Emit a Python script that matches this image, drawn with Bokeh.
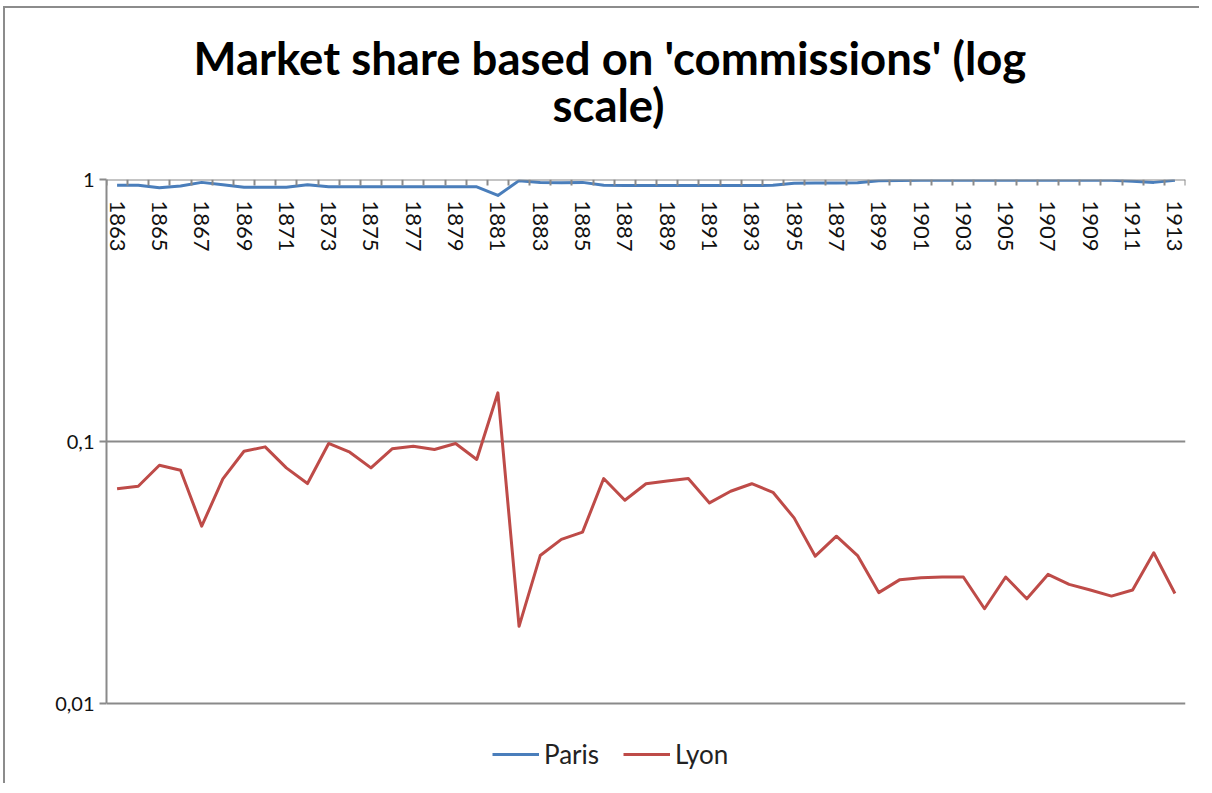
from bokeh.plotting import figure
from bokeh.models import Range1d, FixedTicker, CustomJSTickFormatter, Legend, LegendItem, Title
from bokeh.embed import file_html
from bokeh.resources import INLINE

# ---- data ----
years = list(range(1863, 1914))
label_years = [y for y in years if (y - 1863) % 2 == 0]

paris = [0.951, 0.950, 0.930, 0.945, 0.975, 0.955, 0.935, 0.935, 0.935, 0.955,
         0.938, 0.938, 0.938, 0.938, 0.938, 0.938, 0.938, 0.938, 0.869, 0.990,
         0.975, 0.972, 0.975, 0.950, 0.948, 0.948, 0.948, 0.948, 0.948, 0.948,
         0.948, 0.950, 0.968, 0.970, 0.970, 0.972, 0.990, 0.992, 0.993, 0.993,
         0.993, 0.993, 0.993, 0.993, 0.993, 0.993, 0.993, 0.993, 0.985, 0.975,
         0.993]

lyon = [0.066, 0.0675, 0.0812, 0.0777, 0.0475, 0.072, 0.0918, 0.0954, 0.0793, 0.0691,
        0.0983, 0.091, 0.0793, 0.0938, 0.096, 0.0932, 0.0983, 0.0854, 0.1534, 0.0197,
        0.0367, 0.0423, 0.0451, 0.0722, 0.0597, 0.069, 0.0706, 0.0722, 0.0583, 0.0646,
        0.069, 0.064, 0.0511, 0.0365, 0.0435, 0.0367, 0.0265, 0.0297, 0.0302, 0.0304,
        0.0304, 0.023, 0.0304, 0.0251, 0.0311, 0.0285, 0.0271, 0.0257, 0.0271, 0.0376,
        0.0263]

y_ticks = [0.01, 0.1, 1]
title_lines = ["Market share based on 'commissions' (log", "scale)"]

GRAY = "#8a8a8a"
FONT = "Lato"

# frame extends a little below 0.01 so the legend can sit inside it
y_low = 10 ** (-2 - 72 / 262)

p = figure(width=1196, height=777, title=None,
           x_range=Range1d(years[0] - 0.5, years[-1] + 0.5),
           y_range=Range1d(y_low, 1),
           y_axis_type="log", output_backend="svg", toolbar_location=None,
           min_border_left=101, min_border_right=16, min_border_top=171,
           min_border_bottom=10)
p.outline_line_color = None
p.background_fill_color = "white"
p.border_fill_color = "white"
p.styles = {"border-top": "2px solid #8c8c8c", "border-left": "2px solid #8c8c8c",
            "margin-top": "6px", "margin-left": "3px"}

# title: spacer + two lines (first added = nearest the plot)
p.add_layout(Title(text=" ", text_font_size="10px", standoff=40), "above")
p.add_layout(Title(text=title_lines[1], align="left", offset=446, standoff=-10,
                   text_font=FONT, text_font_style="bold", text_font_size="45.5px",
                   text_color="#000000"), "above")
p.add_layout(Title(text=title_lines[0], align="left", offset=87, standoff=-10,
                   text_font=FONT, text_font_style="bold", text_font_size="45.5px",
                   text_color="#000000"), "above")

r_paris = p.line(years, paris, line_color="#4A7EBB", line_width=3, line_join="round")
r_lyon = p.line(years, lyon, line_color="#BE4B48", line_width=3, line_join="round")

# x axis at y = 1 (top of plot), ticks between categories
xa = p.xaxis[0]
xa.fixed_location = 1
xa.ticker = FixedTicker(ticks=label_years,
                        minor_ticks=[y - 0.5 for y in years] + [years[-1] + 0.5])
xa.major_tick_line_alpha = 0
xa.major_tick_out = 6
xa.major_tick_in = 0
xa.minor_tick_out = 6
xa.minor_tick_in = 0
xa.minor_tick_line_color = GRAY
xa.minor_tick_line_width = 2
xa.axis_line_color = GRAY
xa.axis_line_width = 2
xa.major_label_orientation = "vertical"
xa.major_label_standoff = 15
xa.major_label_text_font = FONT
xa.major_label_text_font_size = "22px"
xa.major_label_text_color = "#111111"

ya = p.yaxis[0]
ya.bounds = (0.01, 1)
ya.ticker = FixedTicker(ticks=y_ticks, minor_ticks=[])
ya.formatter = CustomJSTickFormatter(
    code="return tick >= 1 ? '1' : tick.toString().replace('.', ',');")
ya.axis_line_color = GRAY
ya.axis_line_width = 2
ya.major_tick_line_color = GRAY
ya.major_tick_line_width = 2
ya.major_tick_out = 7
ya.major_tick_in = 0
ya.minor_tick_line_color = None
ya.major_label_standoff = 5
ya.major_label_text_font = FONT
ya.major_label_text_font_size = "20px"
ya.major_label_text_color = "#111111"

p.xgrid.visible = False
p.ygrid[0].ticker = FixedTicker(ticks=y_ticks, minor_ticks=[])
p.ygrid[0].grid_line_color = GRAY
p.ygrid[0].grid_line_width = 2

legend = Legend(items=[LegendItem(label="Paris", renderers=[r_paris]),
                       LegendItem(label="Lyon", renderers=[r_lyon])],
                orientation="horizontal", location=(386, 5),
                glyph_width=47, glyph_height=22, label_height=22,
                label_standoff=5, spacing=24, padding=0, margin=0,
                border_line_color=None, background_fill_alpha=0,
                label_text_font=FONT, label_text_font_size="26px",
                label_text_color="#222222")
p.add_layout(legend)

open("out.html", "w").write(file_html(p, INLINE))
